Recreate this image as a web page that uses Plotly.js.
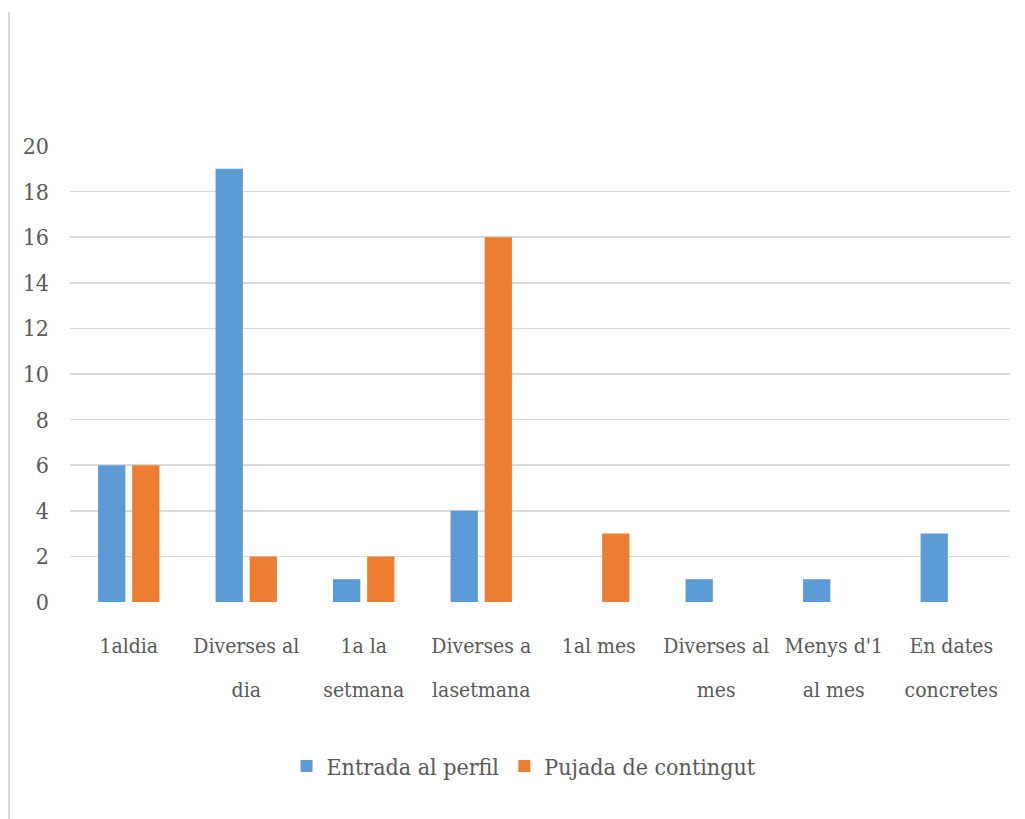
<!DOCTYPE html>
<html><head><meta charset="utf-8">
<script src="https://cdn.plot.ly/plotly-3.0.1.min.js"></script>
<style>
html,body{margin:0;padding:0;background:#fff;}
#wrap{position:relative;width:1025px;height:819px;}
#chart{width:1025px;height:819px;}
#edge{position:absolute;left:8px;top:12px;width:2px;height:807px;background:#D9D9D9;}
</style></head>
<body><div id="wrap"><div id="chart"></div><div id="edge"></div></div>
<script>
const categories = ["1aldia","Diverses al<br>dia","1a la<br>setmana","Diverses a<br>lasetmana","1al mes","Diverses al<br>mes","Menys d'1<br>al mes","En dates<br>concretes"];
const entradaValues = [6,19,1,4,0,1,1,3];
const pujadaValues = [6,2,2,16,3,0,0,0];
const seriesNames = ["Entrada al perfil","Pujada de contingut"];
const yTicks = [0,2,4,6,8,10,12,14,16,18,20];

const FONT = 'DejaVu Serif Condensed, DejaVu Serif, serif';
const tickText = categories.map(c => c.split('<br>').map(s => '<span style="font-size:21px">'+s+'</span>').join('<br>'));

const traces = [
  {type:'bar', name:seriesNames[0], x:categories, y:entradaValues, marker:{color:'#5B9BD5'}},
  {type:'bar', name:seriesNames[1], x:categories, y:pujadaValues, marker:{color:'#ED7D31'}}
];
const layout = {
  width:1025, height:819,
  margin:{l:70, r:15, t:146, b:217},
  paper_bgcolor:'#fff', plot_bgcolor:'#fff',
  font:{family:FONT, size:22, color:'#595959'},
  barmode:'group', bargap:0.42, bargroupgap:0.2,
  showlegend:true,
  legend:{orientation:'h', x:0.483, xanchor:'center', y:-0.36, yanchor:'middle', font:{family:FONT, size:23, color:'#595959'}},
  xaxis:{type:'category', tickmode:'array', tickvals:categories, ticktext:tickText, tickfont:{family:FONT, size:34}, showgrid:false, zeroline:false, showline:false, ticks:'', ticklabelstandoff:16},
  yaxis:{range:[0,20], tickmode:'array', tickvals:yTicks, showgrid:true, gridcolor:'#D9D9D9', gridwidth:1.5, zeroline:false, showline:false, ticks:'', ticklabelstandoff:20, tickfont:{family:FONT, size:23}}
};
Plotly.newPlot('chart', traces, layout, {displayModeBar:false, staticPlot:true});
</script></body></html>
